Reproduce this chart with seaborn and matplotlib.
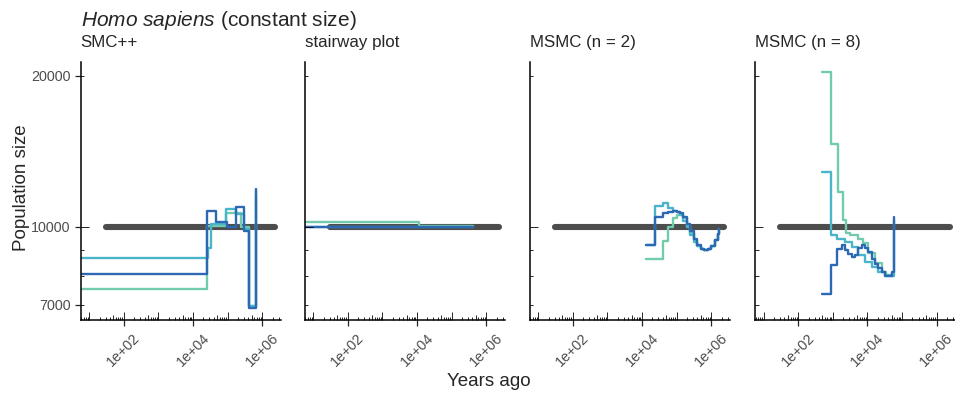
import numpy as np
import pandas as pd
import seaborn as sns
import matplotlib.pyplot as plt
from matplotlib.transforms import blended_transform_factory

# panel names and replicate colours
methods = ["SMC++", "stairway plot", "MSMC (n = 2)", "MSMC (n = 8)"]
rep_colors = ["#72cbab", "#4ab5c9", "#2d69b3"]

# true (constant) population size
truth_years = [30, 2.4e6]
truth_ne = [10000, 10000]

# SMC++ (3 replicates)
smcpp_years = [
    [3, 2.6e4, 9.3e4, 2.4e5, 4.2e5, 6.7e5],
    [3, 2.7e4, 3.4e4, 9.3e4, 1.7e5, 3.0e5, 4.2e5, 6.7e5],
    [3, 2.5e4, 4.6e4, 9.5e4, 1.7e5, 2.9e5, 4.2e5, 6.7e5],
]
smcpp_ne = [
    [7510, 10050, 10650, 10000, 6960, 11500],
    [8660, 9070, 10150, 10880, 10600, 9900, 6960, 11800],
    [8050, 10780, 10245, 10000, 10950, 9800, 6900, 11900],
]

# stairway plot
stairway_years = [
    [3, 1.15e4, 4.1e5],
    [3, 4.1e5],
    [3, 4.1e5],
]
stairway_ne = [
    [10250, 10050, 10050],
    [10020, 10020],
    [9990, 9990],
]

# MSMC, 2 haplotypes
msmc2_grid = [13300, 24200, 40300, 56200, 79400, 1.0e5, 1.26e5, 1.58e5, 2.0e5, 2.51e5,
              3.16e5, 3.98e5, 5.0e5, 6.31e5, 7.94e5, 1.0e6, 1.26e6, 1.58e6, 1.74e6]
msmc2_years = [msmc2_grid, msmc2_grid, msmc2_grid]
msmc2_ne = [
    [8620, 8620, 9378, 10000, 10400, 10560, 10600, 10400, 10100, 9750, 9400, 9150,
     9030, 9000, 9050, 9180, 9400, 9700, 9900],
    [9195, 11010, 11150, 10900, 10750, 10700, 10550, 10300, 10000, 9650, 9350, 9150,
     9040, 9000, 9040, 9170, 9400, 9700, 9900],
    [9195, 10480, 10660, 10700, 10750, 10730, 10650, 10450, 10150, 9800, 9450, 9200,
     9060, 9010, 9050, 9180, 9400, 9700, 9900],
]

# MSMC, 8 haplotypes
msmc8_years = [
    [478, 891, 1390, 1930, 2420, 3160, 5500, 7660, 10700, 16600, 25700, 35500, 56200],
    [478, 891, 1300, 2260, 3520, 5500, 8570, 13300, 20800, 32400, 50100, 58900],
    [478, 891, 1300, 1810, 2260, 2820, 3520, 4410, 5500, 6840, 8570, 10700, 13200,
     16600, 20400, 25700, 32400, 50100, 58900],
]
msmc8_ne = [
    [20390, 14630, 11760, 10330, 9715, 9640, 9450, 9280, 8860, 8460, 8150, 7990, 7970],
    [12890, 9640, 9450, 9350, 9130, 8795, 8530, 8335, 8150, 8020, 7970, 10330],
    [7344, 8400, 9040, 9210, 9000, 8830, 8700, 8780, 9070, 9210, 9070, 8900, 8650,
     8450, 8280, 8130, 7990, 8150, 10480],
]

all_years = [smcpp_years, stairway_years, msmc2_years, msmc8_years]
all_ne = [smcpp_ne, stairway_ne, msmc2_ne, msmc8_ne]

rows = []
for m, yrs, nes in zip(methods, all_years, all_ne):
    for r, (t, n) in enumerate(zip(yrs, nes)):
        for ti, ni in zip(t, n):
            rows.append({"method": m, "rep": r + 1, "years": ti, "ne": ni})
df = pd.DataFrame(rows)
truth = pd.DataFrame({"years": truth_years, "ne": truth_ne})

sns.set_style("ticks")
plt.rcParams["font.family"] = ["Liberation Sans", "DejaVu Sans"]
plt.rcParams["mathtext.fontset"] = "custom"
plt.rcParams["mathtext.it"] = "Liberation Sans:italic"
plt.rcParams["mathtext.rm"] = "Liberation Sans"

W, H = 955, 394
fig = plt.figure(figsize=(W / 100, H / 100), dpi=100)

xlim = (10 ** 0.75, 10 ** 6.53)
ylim = (6526, 21320)
ax_w, ax_h = 200, 258
ax_top = 62
lefts = [80.5, 304.5, 529.5, 755]
tick_grey = "#4d4d4d"


def logticks(ax):
    tx = blended_transform_factory(ax.transData, ax.transAxes)
    ty = blended_transform_factory(ax.transAxes, ax.transData)
    for d in range(0, 7):
        for k in range(1, 10):
            v = k * 10 ** d
            if xlim[0] <= v <= xlim[1]:
                L = 8 if k == 1 else (5.5 if k == 5 else 3.5)
                ax.plot([v, v], [0, L / ax_h], transform=tx, color="black", lw=0.6,
                        clip_on=False, solid_capstyle="butt")
    for d in range(3, 5):
        for k in range(1, 10):
            v = k * 10 ** d
            if ylim[0] <= v <= ylim[1]:
                L = 8 if k == 1 else (5.5 if k == 5 else 3.5)
                ax.plot([0, L / ax_w], [v, v], transform=ty, color="black", lw=0.6,
                        clip_on=False, solid_capstyle="butt")


for i, m in enumerate(methods):
    ax = fig.add_axes([lefts[i] / W, 1 - (ax_top + ax_h) / H, ax_w / W, ax_h / H])
    sns.lineplot(data=truth, x="years", y="ne", color="#4d4d4d", lw=4.4,
                 solid_capstyle="round", ax=ax, zorder=1)
    sub = df[df["method"] == m]
    sns.lineplot(data=sub, x="years", y="ne", hue="rep", hue_order=[1, 2, 3],
                 palette=rep_colors, estimator=None, sort=False, drawstyle="steps-post",
                 lw=1.7, legend=False, ax=ax, zorder=2)
    ax.set_xscale("log")
    ax.set_yscale("log")
    ax.set_xlim(xlim)
    ax.set_ylim(ylim)
    ax.minorticks_off()
    ax.set_xticks([1e2, 1e4, 1e6])
    ax.set_xticklabels(["1e+02", "1e+04", "1e+06"], rotation=45, ha="center", va="top")
    ax.set_yticks([7000, 10000, 20000])
    if i == 0:
        ax.set_yticklabels(["7000", "10000", "20000"])
        ax.tick_params(axis="y", length=4, width=0.9, pad=3, labelsize=10.3,
                       labelcolor=tick_grey)
    else:
        ax.set_yticklabels([])
        ax.tick_params(axis="y", length=0)
    ax.tick_params(axis="x", length=4, width=0.9, pad=4, labelsize=10.3,
                   labelcolor=tick_grey)
    ax.minorticks_off()
    ax.set_xlabel("")
    ax.set_ylabel("")
    sns.despine(ax=ax)
    for s in ["left", "bottom"]:
        ax.spines[s].set_linewidth(1.1)
        ax.spines[s].set_color("black")
    logticks(ax)
    ax.text(0, 1 + 14.7 / ax_h, m, transform=ax.transAxes, ha="left",
            va="baseline", fontsize=12.2)

fig.text(80.5 / W, 1 - 26 / H, r"$\mathit{Homo\ sapiens}$ (constant size)",
         ha="left", va="baseline", fontsize=15)
fig.text(489 / W, 1 - 382 / H, "Years ago", ha="center", va="center", fontsize=13.5)
fig.text(22 / W, 1 - 188 / H, "Population size", ha="center", va="center",
         rotation=90, fontsize=13.5)

fig.savefig("out.png", dpi=100)
